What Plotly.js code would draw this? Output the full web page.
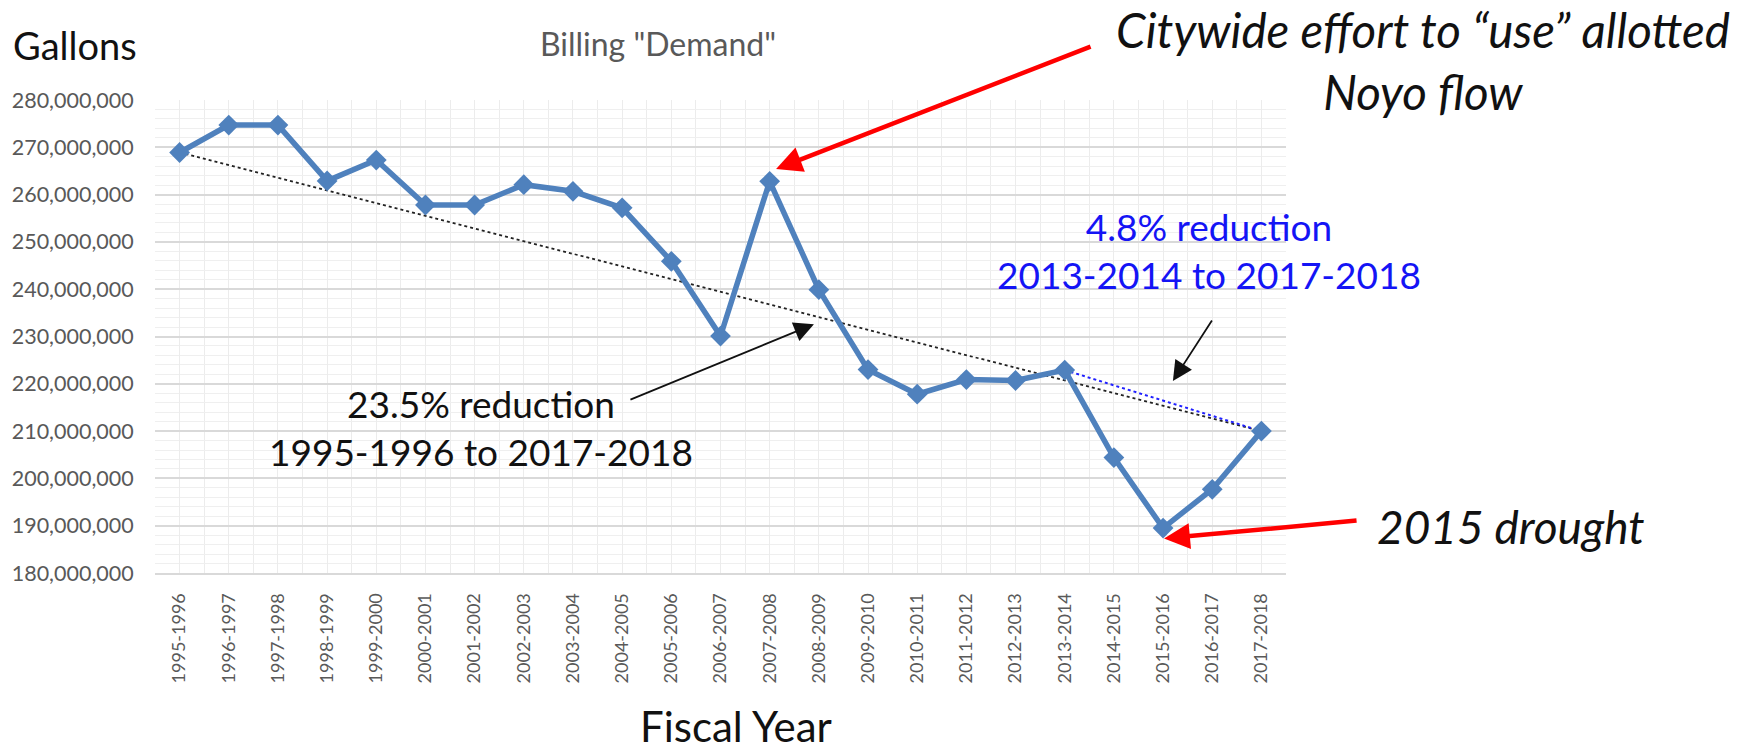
<!DOCTYPE html>
<html>
<head>
<meta charset="utf-8">
<script src="https://cdn.plot.ly/plotly-3.0.1.min.js"></script>
<style>html,body{margin:0;padding:0;background:#fff;}#chart{width:1755px;height:754px;}</style>
</head>
<body>
<div id="chart"></div>
<script>
// ---- data ----
const categories = ['1995-1996','1996-1997','1997-1998','1998-1999','1999-2000','2000-2001','2001-2002','2002-2003','2003-2004','2004-2005','2005-2006','2006-2007','2007-2008','2008-2009','2009-2010','2010-2011','2011-2012','2012-2013','2013-2014','2014-2015','2015-2016','2016-2017','2017-2018'];
const demand = [268.9e6, 274.7e6, 274.7e6, 262.9e6, 267.3e6, 257.8e6, 257.8e6, 262.1e6, 260.7e6, 257.2e6, 245.9e6, 230.1e6, 262.8e6, 239.9e6, 223.0e6, 217.8e6, 220.9e6, 220.7e6, 222.9e6, 204.4e6, 189.5e6, 197.7e6, 210.0e6];
const yTickValues = [180e6,190e6,200e6,210e6,220e6,230e6,240e6,250e6,260e6,270e6,280e6];
const titleText = 'Billing "Demand"';
const yLabel = 'Gallons';
const xLabel = 'Fiscal Year';
const noteLong = '23.5% reduction<br>1995-1996 to 2017-2018';
const noteRecent = '4.8% reduction<br>2013-2014 to 2017-2018';
const noteSpike = 'Citywide effort to \u201cuse\u201d allotted<br>Noyo flow';
const noteDrought = '2015 drought';
const recentStart = '2013-2014';

// ---- layout helpers (pixel geometry of the plot box) ----
const W = 1755, H = 754, L = 155, R = 1286, T = 100, B = 573;
const xp = px => (px - L) / (R - L);
const yp = py => (B - py) / (B - T);
const FONT = 'Lato, "Open Sans", sans-serif';

const idx = categories.map((c, i) => i);
const last = categories.length - 1;
const rs = categories.indexOf(recentStart);

const traces = [
  { x: [idx[0], idx[last]], y: [demand[0], demand[last]], mode: 'lines', type: 'scatter',
    line: { color: '#222', width: 1.8, dash: 'dot' }, hoverinfo: 'skip' },
  { x: [idx[rs], idx[last]], y: [demand[rs], demand[last]], mode: 'lines', type: 'scatter',
    line: { color: '#2020ff', width: 2, dash: 'dot' }, hoverinfo: 'skip' },
  { x: idx, y: demand, mode: 'lines+markers', type: 'scatter',
    line: { color: '#4f81bd', width: 5.5 },
    marker: { symbol: 'diamond', size: 16, color: '#4f81bd' } }
];

const annotations = [
  { text: yLabel, xref: 'paper', yref: 'paper', x: xp(11), y: yp(45), xanchor: 'left', yanchor: 'middle',
    showarrow: false, font: { family: FONT, size: 38, color: '#111' } },
  { text: xLabel, xref: 'paper', yref: 'paper', x: xp(736), y: yp(753), xanchor: 'center', yanchor: 'bottom',
    showarrow: false, font: { family: FONT, size: 42, color: '#111' } },
  { text: noteLong, xref: 'paper', yref: 'paper', x: xp(481), y: yp(427), xanchor: 'center', yanchor: 'middle',
    showarrow: false, align: 'center', font: { family: FONT, size: 37, color: '#111' } },
  { text: noteRecent, xref: 'paper', yref: 'paper', x: xp(1209), y: yp(251), xanchor: 'center', yanchor: 'middle',
    showarrow: false, align: 'center', font: { family: FONT, size: 37, color: '#1414f5' } },
  { text: '<i>' + noteSpike + '</i>', xref: 'paper', yref: 'paper', x: xp(1423), y: yp(61), xanchor: 'center', yanchor: 'middle',
    showarrow: false, align: 'center', font: { family: FONT, size: 47.5, color: '#111' } },
  { text: '<i>' + noteDrought + '</i>', xref: 'paper', yref: 'paper', x: xp(1511), y: yp(526), xanchor: 'center', yanchor: 'middle',
    showarrow: false, font: { family: FONT, size: 46, color: '#111' } },
  // arrows
  { text: '', x: 12.13, y: 265.4e6, ax: 316, ay: -123, showarrow: true, arrowhead: 2, arrowsize: 1.15, arrowwidth: 4.5, arrowcolor: '#ff0000' },
  { text: '', x: 20.02, y: 187.3e6, ax: 194, ay: -18, showarrow: true, arrowhead: 2, arrowsize: 1.15, arrowwidth: 4.5, arrowcolor: '#ff0000' },
  { text: '', x: 12.9, y: 232.6e6, ax: -185, ay: 76, showarrow: true, arrowhead: 2, arrowsize: 2.2, arrowwidth: 1.8, arrowcolor: '#111' },
  { text: '', x: 20.2, y: 220.6e6, ax: 40, ay: -62, showarrow: true, arrowhead: 2, arrowsize: 2.2, arrowwidth: 1.8, arrowcolor: '#111' }
];

const layout = {
  width: W, height: H,
  margin: { l: L, r: W - R, t: T, b: H - B, pad: 0 },
  paper_bgcolor: '#fff', plot_bgcolor: '#fff',
  showlegend: false,
  font: { family: FONT },
  title: { text: titleText, xref: 'container', yref: 'container', x: 658 / W, y: 1 - 45 / H,
           xanchor: 'center', yanchor: 'middle', font: { family: FONT, size: 32, color: '#595959' } },
  xaxis: {
    type: 'linear', range: [-0.5, last + 0.5],
    tickmode: 'array', tickvals: idx, ticktext: categories, tickangle: -90,
    tickfont: { family: FONT, size: 18, color: '#595959' },
    ticks: 'outside', ticklen: 11, tickcolor: 'rgba(0,0,0,0)',
    showgrid: true, gridcolor: '#ececec', gridwidth: 1,
    minor: { tickmode: 'array', tickvals: idx.map(i => i - 0.5).concat([last + 0.5]), showgrid: true, gridcolor: '#ececec', gridwidth: 1, ticks: '' },
    showline: true, linecolor: '#d9d9d9', linewidth: 2, mirror: false,
    zeroline: false, fixedrange: true
  },
  yaxis: {
    range: [180e6, 280e6], tickmode: 'array', tickvals: yTickValues, tickformat: ',d',
    tickfont: { family: FONT, size: 21.5, color: '#595959' },
    ticks: 'outside', ticklen: 16, tickcolor: 'rgba(0,0,0,0)',
    showgrid: true, gridcolor: '#d9d9d9', gridwidth: 2,
    minor: { dtick: 2e6, tick0: 180e6, showgrid: true, gridcolor: '#efefef', gridwidth: 1, ticks: '' },
    showline: false, zeroline: false, fixedrange: true
  },
  annotations: annotations
};

Plotly.newPlot('chart', traces, layout, { staticPlot: true, displayModeBar: false });
</script>
</body>
</html>
